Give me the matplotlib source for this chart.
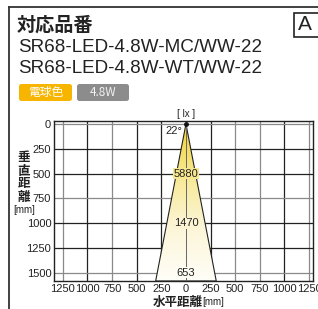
import matplotlib
matplotlib.use('Agg')
import matplotlib.pyplot as plt
import numpy as np
from matplotlib.colors import LinearSegmentedColormap
from matplotlib.patches import Polygon, Rectangle, FancyBboxPatch
from matplotlib.lines import Line2D

plt.rcParams['font.family'] = ['Liberation Sans', 'Noto Sans CJK JP', 'DejaVu Sans']

# data
title = '対応品番'
models = ['SR68-LED-4.8W-MC/WW-22', 'SR68-LED-4.8W-WT/WW-22']
badges = ['電球色', '4.8W']
x_ticks = [-1250, -1000, -750, -500, -250, 0, 250, 500, 750, 1000, 1250]
y_ticks = [0, 250, 500, 750, 1000, 1250, 1500]
beam_angle = 22
lux_depth = [500, 1000, 1500]
lux_value = [5880, 1470, 653]

W, H = 318, 309
fig = plt.figure(figsize=(W / 100, H / 100), dpi=100)

def fx(px):
    return px / W

def fy(py):
    return 1 - py / H

ax = fig.add_axes([fx(54), fy(281), fx(313) - fx(54), fy(121) - fy(281)])
xmin, xmax = -1340, 1290
ymin, ymax = 1583, -30
ax.set_xlim(xmin, xmax)
ax.set_ylim(ymin, ymax)

# grid
for x in x_ticks:
    if x == 0:
        continue
    c = '#8a8a8a' if abs(x) in (750, 1250) or x == 500 else '#222222'
    ax.axvline(x, color=c, lw=0.9, zorder=1)
for y in y_ticks:
    c = '#8a8a8a' if y in (0, 750, 1500) else '#222222'
    ax.axhline(y, color=c, lw=0.9, zorder=1)

# beam cone
half = np.tan(np.radians(beam_angle / 2)) * ymin
cone = Polygon([[0, 0], [-half, ymin], [half, ymin]], closed=True,
               facecolor='none', edgecolor='#222222', lw=0.8, zorder=3)
ax.add_patch(cone)
cmap = LinearSegmentedColormap.from_list(
    'beam', [(0, '#F0D230'), (0.3, '#F7E78C'), (0.65, '#FCF5D6'), (1, '#FFFEF8')])
grad = np.linspace(0, 1, 256).reshape(-1, 1)
im = ax.imshow(grad, cmap=cmap, extent=[-half, half, ymin, 0], aspect='auto',
               origin='upper', zorder=2)
clip = Polygon([[0, 0], [-half, ymin], [half, ymin]], closed=True,
               transform=ax.transData)
im.set_clip_path(clip)
ax.set_xlim(xmin, xmax)
ax.set_ylim(ymin, ymax)
ax.plot([0, 0], [0, ymin], color='#666666', lw=0.7, zorder=3)
ax.plot([0], [0], marker='o', ms=2.5, color='#111111', zorder=4)

for d, v in zip(lux_depth, lux_value):
    fc = cmap(d / ymin)
    ax.text(0, d, str(v), ha='center', va='center', fontsize=8, color='#222222',
            zorder=5, bbox=dict(boxstyle='square,pad=0.05', fc=fc, ec='none'))

ax.text(-40, 75, f'{beam_angle}°', ha='right', va='center', fontsize=8, color='#222222')
ax.text(0, -50, '[ lx ]', ha='center', va='bottom', fontsize=7, color='#222222')

ax.set_xticks(x_ticks)
ax.set_xticklabels([str(abs(x)) for x in x_ticks], fontsize=8)
ax.set_yticks(y_ticks)
ax.set_yticklabels([str(y) for y in y_ticks], fontsize=8)
ax.tick_params(length=0, pad=2, colors='#222222')
for s in ax.spines.values():
    s.set_color('#222222')
    s.set_linewidth(1.0)

# axis labels
for i, ch in enumerate('垂直距離'):
    fig.text(fx(24), fy(158 + i * 13), ch, ha='center', va='center', fontsize=9,
             fontweight='bold', family=['Noto Sans CJK JP'], color='#222222')
fig.text(fx(24), fy(210), '[mm]', ha='center', va='center', fontsize=7, color='#222222')
fig.text(fx(153), fy(302), '水平距離', ha='left', va='center', fontsize=9,
         fontweight='bold', family=['Noto Sans CJK JP'], color='#222222')
fig.text(fx(202), fy(302), '[mm]', ha='left', va='center', fontsize=7, color='#222222')

# header
fig.text(fx(17), fy(25), title, ha='left', va='center', fontsize=13.8,
         fontweight='bold', family=['Noto Sans CJK JP'], color='#222222')
for i, m in enumerate(models):
    fig.text(fx(18), fy(48 + i * 20.5), m, ha='left', va='center', fontsize=13.6,
             color='#222222')

badge_box = [(19, 72, '#F7B500', 'white'), (77, 129, '#8C8C8C', '#F2F2F2')]
for (x0, x1, fc, tc), b in zip(badge_box, badges):
    fig.patches.append(FancyBboxPatch((fx(x0), fy(101)), fx(x1) - fx(x0), fy(84) - fy(101),
                                      boxstyle='round,pad=0,rounding_size=0.008',
                                      transform=fig.transFigure, fc=fc, ec='none'))
    fig.text(fx((x0 + x1) / 2), fy(92.5), b, ha='center', va='center', fontsize=8.5,
             color=tc, family=['Noto Sans CJK JP', 'Liberation Sans'])

# "A" box and frame
fig.patches.append(Rectangle((fx(294), fy(37)), fx(330) - fx(294), fy(13) - fy(37),
                             transform=fig.transFigure, fc='white', ec='#222222', lw=1.2))
fig.text(fx(298), fy(25), 'A', ha='left', va='center', fontsize=15, color='#222222')
fig.add_artist(Line2D([fx(9), 1], [fy(7), fy(7)], color='#333333', lw=1.3))
fig.add_artist(Line2D([fx(9), fx(9)], [0, fy(7)], color='#333333', lw=1.3))

fig.savefig('out.png', dpi=100)
